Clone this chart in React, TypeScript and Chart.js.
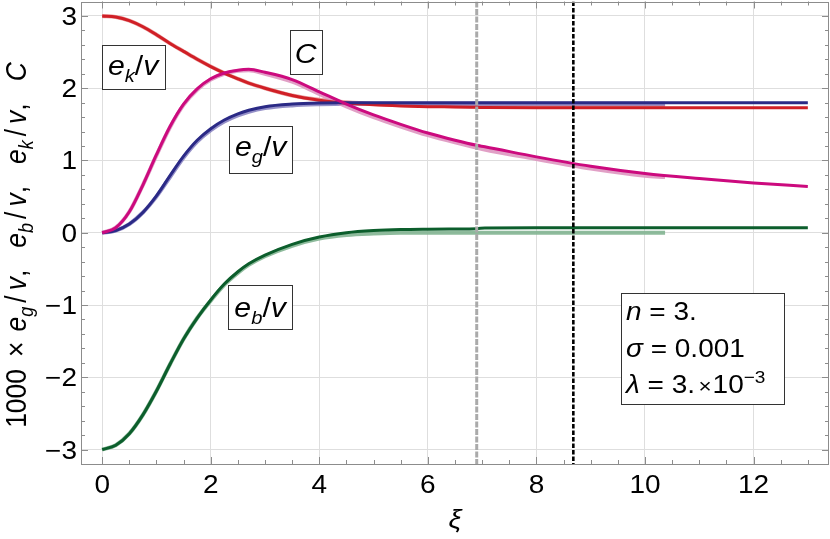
import React, { useEffect, useRef } from "react";
import { Chart, registerables } from "chart.js";
Chart.register(...registerables);

// ---- data ----
const xs = [0, 0.25, 0.5, 0.75, 1, 1.25, 1.5, 1.75, 2, 2.25, 2.5, 2.7, 3, 3.5, 4, 4.5, 5, 5.5, 6, 6.5, 6.9, 7.05, 8, 9, 10, 11, 12, 13];
const ekV = [3.0, 2.985, 2.935, 2.85, 2.74, 2.62, 2.51, 2.4, 2.3, 2.21, 2.13, 2.07, 2.0, 1.9, 1.835, 1.795, 1.77, 1.755, 1.745, 1.74, 1.735, 1.733, 1.73, 1.73, 1.73, 1.73, 1.73, 1.73];
const cVals = [0, 0.07, 0.29, 0.66, 1.08, 1.47, 1.78, 1.99, 2.13, 2.21, 2.25, 2.262, 2.22, 2.12, 1.95, 1.78, 1.63, 1.5, 1.38, 1.28, 1.21, 1.19, 1.05, 0.92, 0.82, 0.75, 0.69, 0.64];
const egV = [0, 0.03, 0.12, 0.28, 0.51, 0.79, 1.06, 1.28, 1.44, 1.56, 1.645, 1.695, 1.745, 1.78, 1.795, 1.8, 1.8, 1.8, 1.8, 1.8, 1.8, 1.8, 1.8, 1.8, 1.8, 1.8, 1.8, 1.8];
const ebV = [-3.0, -2.94, -2.78, -2.52, -2.19, -1.82, -1.47, -1.18, -0.93, -0.71, -0.54, -0.43, -0.31, -0.16, -0.06, 0.0, 0.03, 0.045, 0.05, 0.052, 0.055, 0.067, 0.068, 0.068, 0.068, 0.068, 0.068, 0.068];

const xsLight = [0, 0.25, 0.5, 0.75, 1, 1.25, 1.5, 1.75, 2, 2.25, 2.5, 2.7, 3, 3.5, 4, 4.5, 5, 5.5, 6, 6.5, 7, 8, 9, 10, 10.37];
const ekLight = [3.0, 2.985, 2.935, 2.85, 2.74, 2.62, 2.51, 2.4, 2.3, 2.21, 2.13, 2.07, 2.0, 1.9, 1.84, 1.805, 1.782, 1.768, 1.758, 1.752, 1.748, 1.745, 1.745, 1.745, 1.745];
const cLight = [0, 0.07, 0.29, 0.66, 1.07, 1.46, 1.77, 1.98, 2.12, 2.2, 2.24, 2.25, 2.2, 2.09, 1.92, 1.75, 1.6, 1.47, 1.35, 1.25, 1.16, 1.02, 0.89, 0.79, 0.77];
const egLight = [0, 0.03, 0.12, 0.28, 0.5, 0.77, 1.04, 1.26, 1.42, 1.54, 1.625, 1.675, 1.725, 1.762, 1.778, 1.785, 1.785, 1.785, 1.785, 1.785, 1.785, 1.785, 1.785, 1.785, 1.785];
const ebLight = [-3.0, -2.94, -2.78, -2.52, -2.19, -1.82, -1.47, -1.18, -0.94, -0.72, -0.555, -0.445, -0.325, -0.18, -0.08, -0.03, -0.01, 0.0, 0.0, 0.0, 0.0, 0.0, 0.0, 0.0, 0.0];

const xMarkers = [6.9, 8.68];
const xTickValues = [0, 2, 4, 6, 8, 10, 12];
const yTickValues = [-3, -2, -1, 0, 1, 2, 3];

const FAMILY = '"Liberation Sans", Arial, Helvetica, sans-serif';
const STRETCH = 1.12;

type Seg = { t: string; it?: boolean; sub?: boolean; sup?: boolean; gap?: number; small?: boolean };

function segFont(s: Seg, size: number) {
  const sz = s.sub || s.sup ? Math.round(size * 0.68) : s.small ? Math.round(size * 0.8) : size;
  return `${s.it ? "italic " : ""}${sz}px ${FAMILY}`;
}
function segsWidth(ctx: CanvasRenderingContext2D, segs: Seg[], size: number) {
  let w = 0;
  for (const s of segs) {
    ctx.font = segFont(s, size);
    w += ctx.measureText(s.t).width + (s.gap || 0);
  }
  return w;
}
// draws a run of text pieces; stretch scales glyphs along the text direction
function drawSegs(
  ctx: CanvasRenderingContext2D,
  segs: Seg[],
  x: number,
  y: number,
  size: number,
  align: "left" | "center" | "right",
  stretch = STRETCH
) {
  const total = segsWidth(ctx, segs, size) * stretch;
  const start = align === "center" ? x - total / 2 : align === "right" ? x - total : x;
  ctx.save();
  ctx.translate(start, y);
  ctx.scale(stretch, 1);
  ctx.textAlign = "left";
  ctx.textBaseline = "alphabetic";
  let cx = 0;
  for (const s of segs) {
    ctx.font = segFont(s, size);
    const dy = s.sub ? size * 0.26 : s.sup ? -size * 0.42 : 0;
    ctx.fillText(s.t, cx, dy);
    cx += ctx.measureText(s.t).width + (s.gap || 0);
  }
  ctx.restore();
}

const ekLabel: Seg[] = [{ t: "e", it: true }, { t: "k", it: true, sub: true }, { t: "/" }, { t: "v", it: true }];
const egLabel: Seg[] = [{ t: "e", it: true }, { t: "g", it: true, sub: true }, { t: "/" }, { t: "v", it: true }];
const ebLabel: Seg[] = [{ t: "e", it: true }, { t: "b", it: true, sub: true }, { t: "/" }, { t: "v", it: true }];
const cLabel: Seg[] = [{ t: "C", it: true }];

const boxes = [
  { segs: ekLabel, x: 0.57, y: 2.3, w: 63, h: 44, base: 8.5 },
  { segs: cLabel, x: 3.75, y: 2.5, w: 32, h: 44, base: 10.5 },
  { segs: egLabel, x: 2.92, y: 1.15, w: 63, h: 47, base: 6 },
  { segs: ebLabel, x: 2.91, y: -1.03, w: 64, h: 44, base: 9.5 },
];

const paramLines: Seg[][] = [
  [{ t: "n", it: true }, { t: " = 3." }],
  [{ t: "σ", it: true }, { t: " = 0.001" }],
  [{ t: "λ", it: true }, { t: " = 3.", gap: 3 }, { t: "×", small: true, gap: 1 }, { t: "10" }, { t: "−3", sup: true }],
];

const yTitle: Seg[] = [
  { t: "1000", gap: 12 },
  { t: "×", gap: 10 },
  { t: "e", it: true }, { t: "g", it: true, sub: true, gap: 4 }, { t: "/", gap: 5 }, { t: "v", it: true }, { t: ",", gap: 22 },
  { t: "e", it: true }, { t: "b", it: true, sub: true, gap: 4 }, { t: "/", gap: 5 }, { t: "v", it: true }, { t: ",", gap: 22 },
  { t: "e", it: true }, { t: "k", it: true, sub: true, gap: 4 }, { t: "/", gap: 5 }, { t: "v", it: true }, { t: ",", gap: 22 },
  { t: "C", it: true },
];

const toPts = (xArr: number[], yArr: number[]) => xArr.map((x, i) => ({ x, y: yArr[i] }));

const fmt = (v: number) => (v < 0 ? "−" + Math.abs(v) : String(v));

const framePlugin = {
  id: "frameDeco",
  afterDatasetsDraw(chart: any) {
    const { ctx, chartArea: a, scales } = chart;
    const sx = scales.x;
    ctx.save();
    ctx.beginPath();
    ctx.rect(a.left, a.top, a.right - a.left, a.bottom - a.top);
    ctx.clip();
    const styles = [
      { color: "#aaaaaa", dash: [6, 1.5], width: 3 },
      { color: "#000000", dash: [4.5, 2], width: 2.6 },
    ];
    xMarkers.forEach((v, i) => {
      const px = sx.getPixelForValue(v);
      ctx.strokeStyle = styles[i].color;
      ctx.lineWidth = styles[i].width;
      ctx.setLineDash(styles[i].dash);
      ctx.beginPath();
      ctx.moveTo(px, a.top);
      ctx.lineTo(px, a.bottom);
      ctx.stroke();
    });
    ctx.restore();
  },
  afterDraw(chart: any) {
    const { ctx, chartArea: a, scales } = chart;
    const sx = scales.x, sy = scales.y;
    ctx.save();
    // frame
    ctx.strokeStyle = "#8c8c8c";
    ctx.lineWidth = 1;
    ctx.setLineDash([]);
    ctx.strokeRect(Math.round(a.left) + 0.5, Math.round(a.top) + 0.5, Math.round(a.right - a.left) - 1, Math.round(a.bottom - a.top) - 1);
    // ticks (inward, on all four sides)
    ctx.beginPath();
    for (let k = 0; k <= 26; k++) {
      const v = k * 0.5;
      const px = Math.round(sx.getPixelForValue(v)) + 0.5;
      const len = k % 4 === 0 ? 7 : 4;
      ctx.moveTo(px, a.bottom);
      ctx.lineTo(px, a.bottom - len);
      ctx.moveTo(px, a.top);
      ctx.lineTo(px, a.top + len);
    }
    for (let k = -15; k <= 15; k++) {
      const py = Math.round(sy.getPixelForValue(k * 0.2)) + 0.5;
      const len = k % 5 === 0 ? 7 : 4;
      ctx.moveTo(a.left, py);
      ctx.lineTo(a.left + len, py);
      ctx.moveTo(a.right, py);
      ctx.lineTo(a.right - len, py);
    }
    ctx.stroke();

    // tick labels
    ctx.fillStyle = "#000";
    for (const v of xTickValues) {
      drawSegs(ctx, [{ t: fmt(v) }], sx.getPixelForValue(v), a.bottom + 29, 25, "center");
    }
    for (const v of yTickValues) {
      drawSegs(ctx, [{ t: fmt(v) }], a.left - 4, sy.getPixelForValue(v) + 9, 25, "right");
    }

    // label boxes
    for (const b of boxes) {
      const cx = sx.getPixelForValue(b.x);
      const cy = sy.getPixelForValue(b.y);
      const l = Math.round(cx - b.w / 2), t = Math.round(cy - b.h / 2);
      ctx.fillStyle = "#fff";
      ctx.fillRect(l, t, b.w, b.h);
      ctx.strokeStyle = "#333";
      ctx.lineWidth = 1;
      ctx.strokeRect(l + 0.5, t + 0.5, b.w, b.h);
      ctx.fillStyle = "#000";
      drawSegs(ctx, b.segs, cx, cy + b.base, 27, "center");
    }

    // parameter box
    const pl = Math.round(sx.getPixelForValue(9.55));
    const pt = Math.round(sy.getPixelForValue(-0.84));
    ctx.fillStyle = "#fff";
    ctx.fillRect(pl, pt, 163, 111);
    ctx.strokeStyle = "#333";
    ctx.strokeRect(pl + 0.5, pt + 0.5, 163, 111);
    ctx.fillStyle = "#000";
    paramLines.forEach((line, i) => {
      drawSegs(ctx, line, pl + 5, pt + 27 + i * 36.5, 25, "left");
    });

    // axis titles
    drawSegs(ctx, [{ t: "ξ", it: true }], sx.getPixelForValue(6.5), 528, 26, "center");
    ctx.save();
    ctx.translate(25.5, 245);
    ctx.rotate(-Math.PI / 2);
    ctx.scale(1, STRETCH);
    drawSegs(ctx, yTitle, 0, 0, 26.5, "center", 1);
    ctx.restore();

    ctx.restore();
  },
};

export default function App() {
  const ref = useRef<HTMLCanvasElement | null>(null);
  useEffect(() => {
    document.body.style.margin = "0";
    const canvas = ref.current!;
    const base = {
      pointRadius: 0,
      fill: false,
      cubicInterpolationMode: "monotone" as const,
    };
    const chart = new Chart(canvas, {
      type: "line",
      data: {
        datasets: [
          { ...base, label: "C", data: toPts(xs, cVals), borderColor: "#cc0a7e", borderWidth: 3 },
          { ...base, label: "eg/v", data: toPts(xs, egV), borderColor: "#2b2a86", borderWidth: 3 },
          { ...base, label: "ek/v", data: toPts(xs, ekV), borderColor: "#d01f26", borderWidth: 3 },
          { ...base, label: "eb/v", data: toPts(xs, ebV), borderColor: "#0c5e2c", borderWidth: 3 },
          { ...base, label: "C'", data: toPts(xsLight, cLight), borderColor: "rgba(222,150,192,0.9)", borderWidth: 4 },
          { ...base, label: "eg/v'", data: toPts(xsLight, egLight), borderColor: "rgba(130,124,190,0.85)", borderWidth: 4 },
          { ...base, label: "ek/v'", data: toPts(xsLight, ekLight), borderColor: "rgba(232,150,150,0.9)", borderWidth: 4 },
          { ...base, label: "eb/v'", data: toPts(xsLight, ebLight), borderColor: "rgba(130,180,145,0.9)", borderWidth: 4 },
        ],
      },
      options: {
        responsive: false,
        animation: false,
        parsing: false as any,
        layout: { padding: { top: 1.5, right: 1, left: 0, bottom: 0 } },
        plugins: { legend: { display: false }, tooltip: { enabled: false } },
        scales: {
          x: {
            type: "linear",
            min: -0.39,
            max: 13.39,
            afterFit: (s: any) => {
              s.height = 75;
              s.paddingLeft = 0;
              s.paddingRight = 0;
            },
            afterBuildTicks: (s: any) => { s.ticks = xTickValues.map((v) => ({ value: v })); },
            grid: { color: "#dedede", lineWidth: 1, drawTicks: false },
            border: { display: false },
            ticks: { display: false },
          },
          y: {
            type: "linear",
            min: -3.2,
            max: 3.2,
            afterFit: (s: any) => {
              s.width = 81;
              s.paddingTop = 0;
              s.paddingBottom = 0;
            },
            afterBuildTicks: (s: any) => { s.ticks = yTickValues.map((v) => ({ value: v })); },
            grid: { color: "#dedede", lineWidth: 1, drawTicks: false },
            border: { display: false },
            ticks: { display: false },
          },
        },
      },
      plugins: [framePlugin],
    });
    return () => chart.destroy();
  }, []);
  return (
    <div style={{ position: "absolute", left: 0, top: 0, width: 830, height: 539, background: "#fff" }}>
      <canvas ref={ref} width={830} height={539} style={{ width: 830, height: 539 }} />
    </div>
  );
}
